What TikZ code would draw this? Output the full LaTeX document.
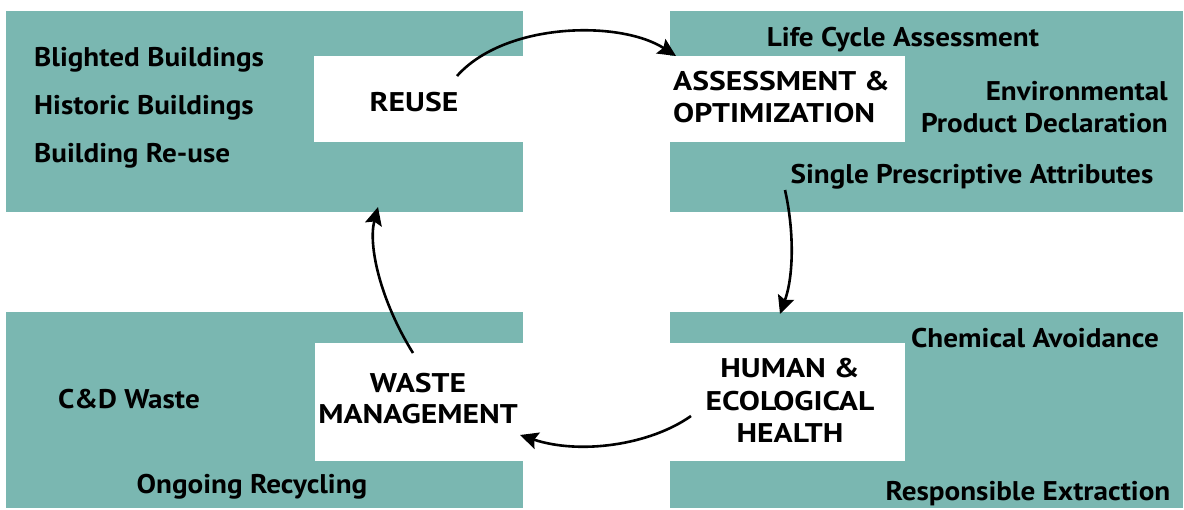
\documentclass[tikz,border=0pt]{standalone}
\usepackage{fontspec}
\setmainfont{PT Sans}[FakeStretch=1.08]
\newfontfamily\capsfont{PT Sans}[FakeStretch=1.17]
\usetikzlibrary{arrows.meta}
\definecolor{tealbg}{HTML}{7AB7B1}
\tikzset{
  tealbox/.style={fill=tealbg, draw=none, anchor=north west, inner sep=0pt},
  whitebox/.style={fill=white, draw=none, anchor=north west, inner sep=0pt},
  lbl/.style={inner sep=0pt, font=\fontsize{27}{32}\selectfont\bfseries},
  capslbl/.style={inner sep=0pt, font=\fontsize{27}{32}\selectfont\capsfont\bfseries},
  cyc/.style={line width=2.6pt, -{Stealth[length=18pt,width=17pt,inset=3pt]}},
}
\begin{document}
\begin{tikzpicture}[x=1pt,y=-1pt]
\useasboundingbox (0,0) rectangle (1184,509);
% teal boxes
\node[tealbox, minimum width=517pt, minimum height=201pt] (tl) at (6,11) {};
\node[tealbox, minimum width=513pt, minimum height=201pt] (tr) at (670,11) {};
\node[tealbox, minimum width=517pt, minimum height=196pt] (bl) at (6,312) {};
\node[tealbox, minimum width=513pt, minimum height=196pt] (br) at (670,312) {};
% white boxes
\node[whitebox, minimum width=209pt, minimum height=86pt] (wtl) at (314,56) {};
\node[whitebox, minimum width=235pt, minimum height=86pt] (wtr) at (670,56) {};
\node[whitebox, minimum width=208pt, minimum height=118pt] (wbl) at (315,343) {};
\node[whitebox, minimum width=235pt, minimum height=118pt] (wbr) at (670,343) {};
% texts top-left
\node[lbl, anchor=base west] (t1) at (34,66) {Blighted Buildings};
\node[lbl, anchor=base west] (t2) at (34,114) {Historic Buildings};
\node[lbl, anchor=base west] (t3) at (34,162) {Building Re-use};
\node[capslbl, anchor=base] (reuse) at (414,111) {REUSE};
% texts top-right
\node[lbl, anchor=base] (t4) at (903,46) {Life Cycle Assessment};
\node[capslbl, anchor=base west] (assA) at (673,90) {ASSESSMENT \&};
\node[capslbl, anchor=base west] (assB) at (673,122) {OPTIMIZATION};
\node[lbl, anchor=base east] (t5) at (1168,100) {Environmental};
\node[lbl, anchor=base east] (t6) at (1168,132) {Product Declaration};
\node[lbl, anchor=base] (t7) at (972,183) {Single Prescriptive Attributes};
% texts bottom-right
\node[lbl, anchor=base] (t8) at (1035,347) {Chemical Avoidance};
\node[capslbl, anchor=base] (humA) at (790,377) {HUMAN \&};
\node[capslbl, anchor=base] (humB) at (790,410) {ECOLOGICAL};
\node[capslbl, anchor=base] (humC) at (790,442) {HEALTH};
\node[lbl, anchor=base] (t9) at (1028,500) {Responsible Extraction};
% texts bottom-left
\node[lbl, anchor=base] (t10) at (129,408) {C\&D Waste};
\node[capslbl, anchor=base] (wasA) at (418,392) {WASTE};
\node[capslbl, anchor=base] (wasB) at (418,423) {MANAGEMENT};
\node[lbl, anchor=base] (t11) at (252,493) {Ongoing Recycling};
% arrow end points
\coordinate (a1s) at (457,76);
\coordinate (a1e) at (676,56);
\coordinate (a2s) at (785,190);
\coordinate (a2e) at (780,314);
\coordinate (a3s) at (691,416);
\coordinate (a3e) at (520,435);
\coordinate (a4s) at (413,353);
\coordinate (a4e) at (378,207);
\draw[cyc] (a1s) .. controls (505,22) and (620,20) .. (a1e);
\draw[cyc] (a2s) .. controls (794,230) and (794,275) .. (a2e);
\draw[cyc] (a3s) .. controls (650,445) and (580,455) .. (a3e);
\draw[cyc] (a4s) .. controls (380,300) and (368,245) .. (a4e);
\end{tikzpicture}
\end{document}
